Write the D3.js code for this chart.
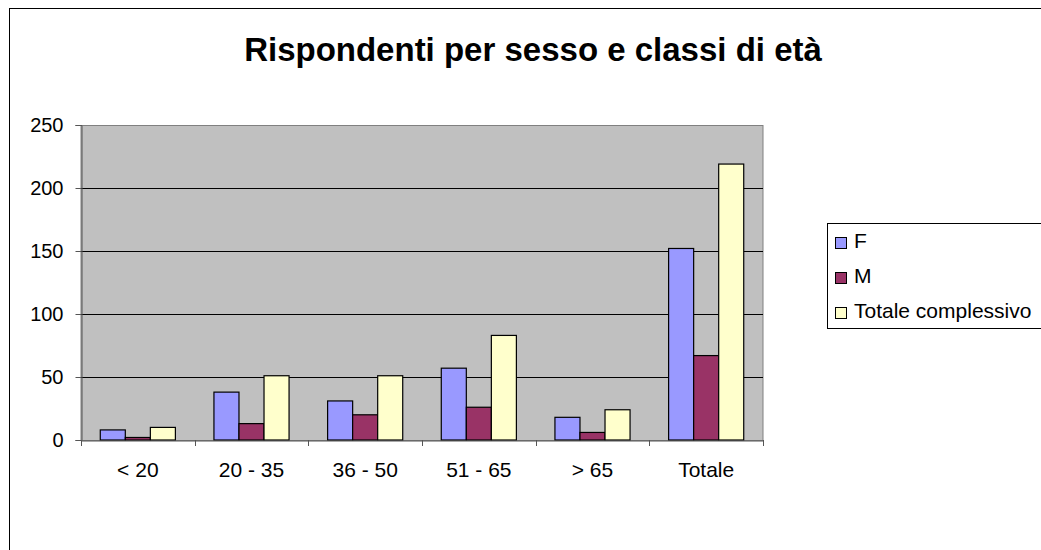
<!DOCTYPE html>
<html>
<head>
<meta charset="utf-8">
<script src="https://cdn.jsdelivr.net/npm/d3@7"></script>
<style>
  body { margin: 0; background: #fff; }
  text { font-family: "Liberation Sans", Arial, sans-serif; }
</style>
</head>
<body>
<script>
// dati
var categories = ['< 20', '20 - 35', '36 - 50', '51 - 65', '> 65', 'Totale'];
var seriesNames = ['F', 'M', 'Totale complessivo'];
var valuesF = [8, 38, 31, 57, 18, 152];
var valuesM = [2, 13, 20, 26, 6, 67];
var valuesTot = [10, 51, 51, 83, 24, 219];
var yTicks = [0, 50, 100, 150, 200, 250];
var colors = ['#9999ff', '#993366', '#ffffcc'];

var allSeries = [valuesF, valuesM, valuesTot];

var svg = d3.select('body').append('svg')
    .attr('width', 1041)
    .attr('height', 550);

// cornice esterna
svg.append('rect')
    .attr('x', 9.5).attr('y', 8.5)
    .attr('width', 1100).attr('height', 600)
    .attr('fill', 'white')
    .attr('stroke', 'black');

svg.append('text')
    .attr('x', 533).attr('y', 61)
    .attr('text-anchor', 'middle')
    .attr('font-size', 33)
    .attr('font-weight', 'bold')
    .text('Rispondenti per sesso e classi di età');

var pLeft = 81, pRight = 763, pTop = 125, pBottom = 440;

var x = d3.scaleBand().domain(categories).range([pLeft, pRight]).paddingInner(0).paddingOuter(0);
var x1 = d3.scaleBand().domain(d3.range(3)).range([0, x.bandwidth()]).paddingOuter(0.77).paddingInner(0);
var y = d3.scaleLinear().domain([0, 250]).range([pBottom, pTop]);

// area del grafico
svg.append('rect')
    .attr('x', pLeft).attr('y', pTop + 0.5)
    .attr('width', pRight - pLeft).attr('height', pBottom - pTop)
    .attr('fill', '#c0c0c0')
    .attr('stroke', '#808080');

// griglia
svg.selectAll('.grid')
    .data(yTicks.filter(function(d){ return d > 0 && d < 250; }))
    .enter().append('line')
    .attr('x1', pLeft).attr('x2', pRight)
    .attr('y1', function(d){ return Math.round(y(d)) + 0.5; })
    .attr('y2', function(d){ return Math.round(y(d)) + 0.5; })
    .attr('stroke', 'black');

// barre
allSeries.forEach(function(vals, s) {
    svg.selectAll('.bar' + s)
        .data(vals)
        .enter().append('rect')
        .attr('x', function(d, i){ return x(categories[i]) + x1(s); })
        .attr('y', function(d){ return y(d); })
        .attr('width', x1.bandwidth())
        .attr('height', function(d){ return pBottom - y(d); })
        .attr('fill', colors[s])
        .attr('stroke', 'black')
        .attr('stroke-width', 1.2);
});

// asse y
var yAxis = svg.append('g')
    .attr('transform', 'translate(' + (pLeft + 0.5) + ',0)')
    .call(d3.axisLeft(y).tickValues(yTicks).tickSize(6).tickPadding(12));
yAxis.select('.domain').attr('stroke', '#555');
yAxis.selectAll('.tick line').attr('stroke', '#555');
yAxis.selectAll('text').attr('font-size', 20).attr('fill', 'black')
    .style('font-family', '"Liberation Sans", Arial, sans-serif');

// asse x
var xAxis = svg.append('g')
    .attr('transform', 'translate(0,' + (pBottom + 0.5) + ')')
    .call(d3.axisBottom(x).tickSize(0).tickPadding(22));
xAxis.select('.domain').attr('stroke', '#555');
xAxis.selectAll('text').attr('font-size', 21).attr('fill', 'black')
    .style('font-family', '"Liberation Sans", Arial, sans-serif');

// tacche tra categorie
var bounds = categories.map(function(c){ return x(c); }).concat([pRight]);
svg.selectAll('.xtick')
    .data(bounds)
    .enter().append('line')
    .attr('x1', function(d){ return Math.round(d) + 0.5; })
    .attr('x2', function(d){ return Math.round(d) + 0.5; })
    .attr('y1', pBottom).attr('y2', pBottom + 6)
    .attr('stroke', '#555');

// legenda
var legend = svg.append('g');
legend.append('rect')
    .attr('x', 827.5).attr('y', 223.5)
    .attr('width', 300).attr('height', 105)
    .attr('fill', 'white')
    .attr('stroke', 'black');

var rows = [248, 283, 318];
seriesNames.forEach(function(name, i) {
    legend.append('rect')
        .attr('x', 835.5).attr('y', rows[i] - 10.5)
        .attr('width', 11).attr('height', 11)
        .attr('fill', colors[i])
        .attr('stroke', 'black');
    legend.append('text')
        .attr('x', 854).attr('y', rows[i])
        .attr('font-size', 21)
        .text(name);
});
</script>
</body>
</html>
